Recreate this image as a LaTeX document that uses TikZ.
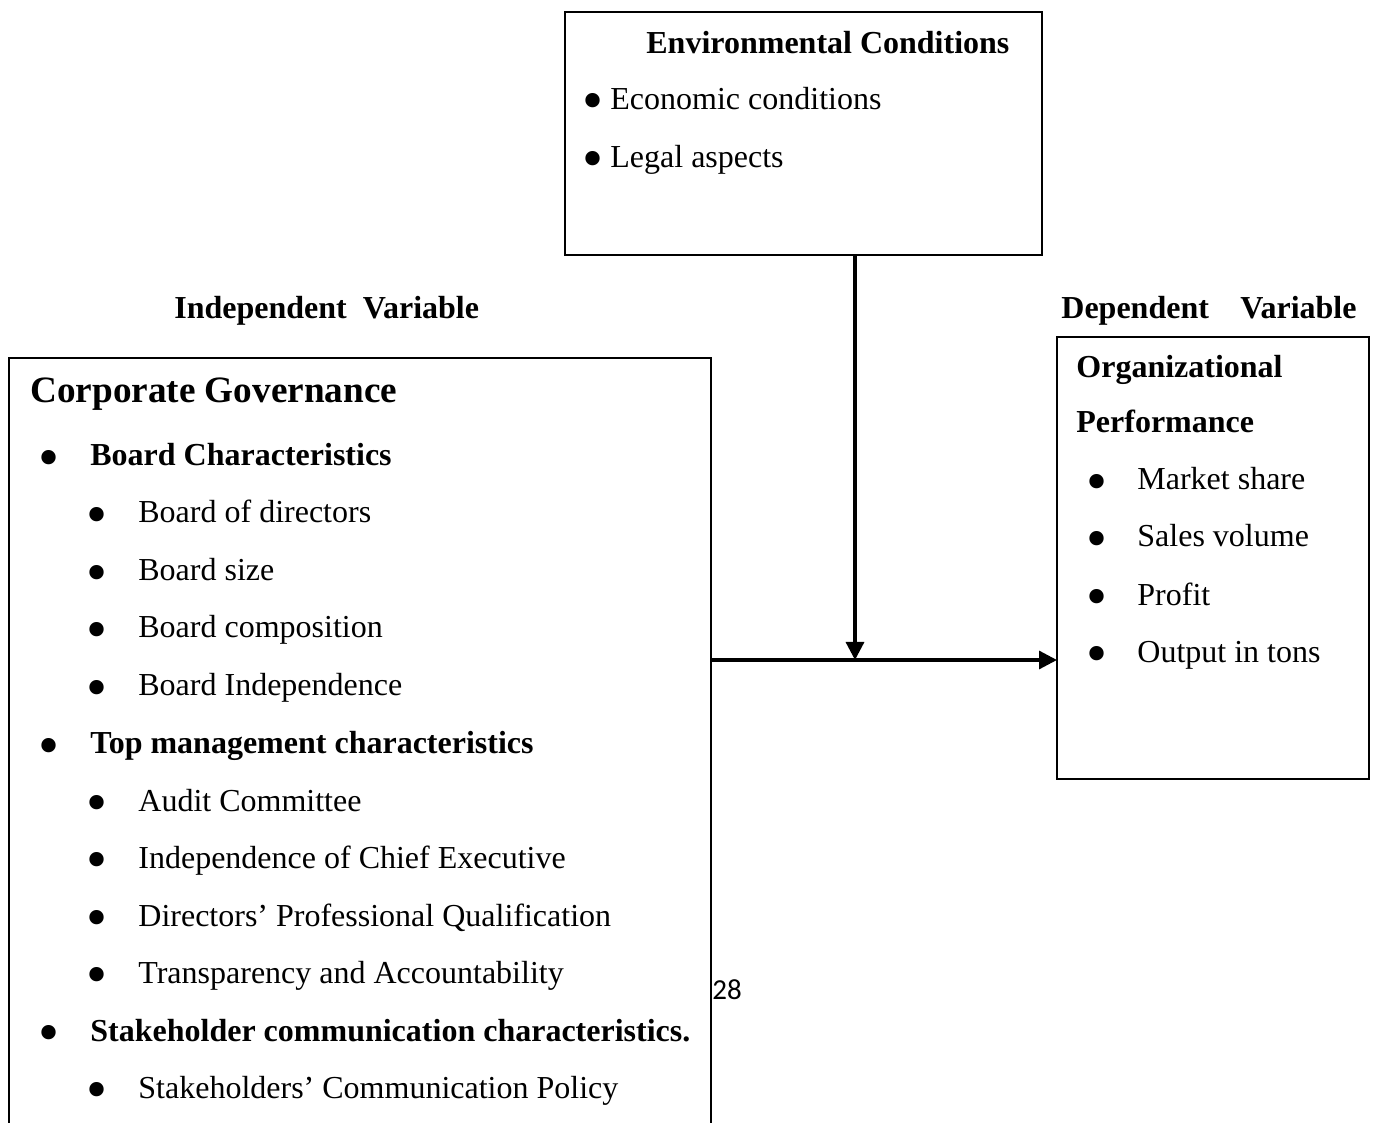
\documentclass[tikz,border=0pt]{standalone}
\usepackage{fontspec}
\setmainfont{Liberation Serif}
\newfontfamily\pagenumfont{Carlito}
\usetikzlibrary{arrows.meta}
\tikzset{
  box/.style={draw=black, line width=0.75pt, inner sep=0pt, outer sep=0pt, rectangle},
  txt/.style={anchor=base west, inner sep=0pt, font=\fontsize{16}{19}\selectfont},
  btxt/.style={txt, font=\fontsize{16}{19}\selectfont\bfseries},
  bigtxt/.style={txt, font=\fontsize{18.6}{22}\selectfont\bfseries},
  bul/.style={anchor=center, inner sep=0pt, yshift=-3pt, font=\fontsize{30}{32}\selectfont},
  arr/.style={line width=1.6pt, -{Triangle[length=9pt,width=9pt]}}
}
\begin{document}
\begin{tikzpicture}[x=0.5pt,y=-0.5pt]
\useasboundingbox (0,0) rectangle (1373,1123);
% boxes
\node[box, minimum width=238.5pt, minimum height=121.5pt] (env) at (803.5,133.5) {};
\node[box, minimum width=156pt, minimum height=221pt] (op) at (1213,558) {};
\node[draw=none, inner sep=0pt, outer sep=0pt, minimum width=351pt, minimum height=391pt] (cg) at (360,749) {};
\draw[line width=0.75pt] (cg.south west) -- (cg.north west) -- (cg.north east) -- (cg.south east);
% connectors
\coordinate (j) at (855,660);
\draw[arr] (cg.east |- j) -- (op.west |- j);
\draw[arr] (env.south -| j) -- (j);
% environmental box text
\node[btxt] (envt) at (646,54) {Environmental Conditions};
\node[bul] (eb1) at (592.5,101) {•};
\node[txt] (e1) at (610,110) {Economic conditions};
\node[bul] (eb2) at (592.5,159) {•};
\node[txt] (e2) at (610,168) {Legal aspects};
% variable labels
\node[btxt] (iv) at (174,319) {Independent\ \ Variable};
\node[btxt] (dv1) at (1061,319) {Dependent};
\node[btxt] (dv2) at (1240,319) {Variable};
% corporate governance
\node[bigtxt] (cgt) at (30,403) {Corporate Governance};
\node[bul] (b1) at (49,458) {•};
\node[btxt] (t1) at (90,466) {Board Characteristics};
\node[bul] (b11) at (97,515) {•};
\node[txt] (t11) at (138,523) {Board of directors};
\node[bul] (b12) at (97,573) {•};
\node[txt] (t12) at (138,581) {Board size};
\node[bul] (b13) at (97,630) {•};
\node[txt] (t13) at (138,638) {Board composition};
\node[bul] (b14) at (97,688) {•};
\node[txt] (t14) at (138,696) {Board Independence};
\node[bul] (b2) at (49,746) {•};
\node[btxt] (t2) at (90,754) {Top management characteristics};
\node[bul] (b21) at (97,803) {•};
\node[txt] (t21) at (138,811) {Audit Committee};
\node[bul] (b22) at (97,860) {•};
\node[txt] (t22) at (138,868) {Independence of Chief Executive};
\node[bul] (b23) at (97,918) {•};
\node[txt] (t23) at (138,926) {Directors’ Professional Qualification};
\node[bul] (b24) at (97,975) {•};
\node[txt] (t24) at (138,983) {Transparency and Accountability};
\node[bul] (b3) at (49,1033) {•};
\node[btxt] (t3) at (90,1041) {Stakeholder communication characteristics.};
\node[bul] (b31) at (97,1090) {•};
\node[txt] (t31) at (138,1098) {Stakeholders’ Communication Policy};
% page number
\node[anchor=base west, inner sep=0pt, font=\pagenumfont\fontsize{14.5}{17}\selectfont] (pn) at (712,999) {28};
% organizational performance
\node[btxt] (op1) at (1076,378) {Organizational};
\node[btxt] (op2) at (1076,433) {Performance};
\node[bul] (ob1) at (1097,482) {•};
\node[txt] (o1) at (1137,490) {Market share};
\node[bul] (ob2) at (1097,539) {•};
\node[txt] (o2) at (1137,547) {Sales volume};
\node[bul] (ob3) at (1097,597) {•};
\node[txt] (o3) at (1137,605) {Profit};
\node[bul] (ob4) at (1097,654) {•};
\node[txt] (o4) at (1137,662) {Output in tons};
\end{tikzpicture}
\end{document}
